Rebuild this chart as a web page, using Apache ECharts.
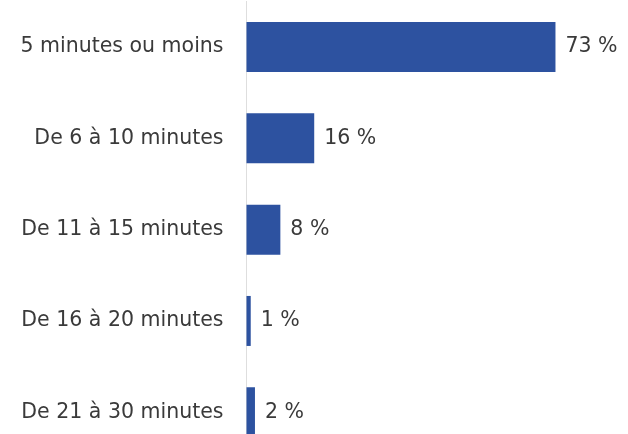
<!DOCTYPE html>
<html>
<head>
<meta charset="utf-8">
<script src="https://cdn.jsdelivr.net/npm/echarts@6/dist/echarts.min.js"></script>
<style>
html,body{margin:0;padding:0;background:#fff;}
#chart{width:628px;height:434px;}
</style>
</head>
<body>
<div id="chart"></div>
<script>
const categories = ["5 minutes ou moins", "De 6 à 10 minutes", "De 11 à 15 minutes", "De 16 à 20 minutes", "De 21 à 30 minutes"];
const values = [73, 16, 8, 1, 2];

const chart = echarts.init(document.getElementById('chart'), null, {renderer: 'canvas'});
chart.setOption({
  animation: false,
  backgroundColor: '#ffffff',
  grid: {left: 246.5, top: 1.4, height: 456.5, width: 338.6, containLabel: false, outerBoundsMode: 'none'},
  xAxis: {
    type: 'value', min: 0, max: 80, show: false
  },
  yAxis: {
    type: 'category', data: categories, inverse: true,
    axisLine: {show: true, lineStyle: {color: '#dedede', width: 1}},
    axisTick: {show: false},
    axisLabel: {color: '#3a3a3a', fontFamily: 'DejaVu Sans', fontSize: 20.5, margin: 23}
  },
  series: [{
    type: 'bar', data: values, barWidth: 50,
    itemStyle: {color: '#2d52a0'},
    label: {
      show: true, position: 'right', distance: 10,
      formatter: '{c} %', color: '#3a3a3a', fontFamily: 'DejaVu Sans', fontSize: 20.5
    }
  }]
});
</script>
</body>
</html>
